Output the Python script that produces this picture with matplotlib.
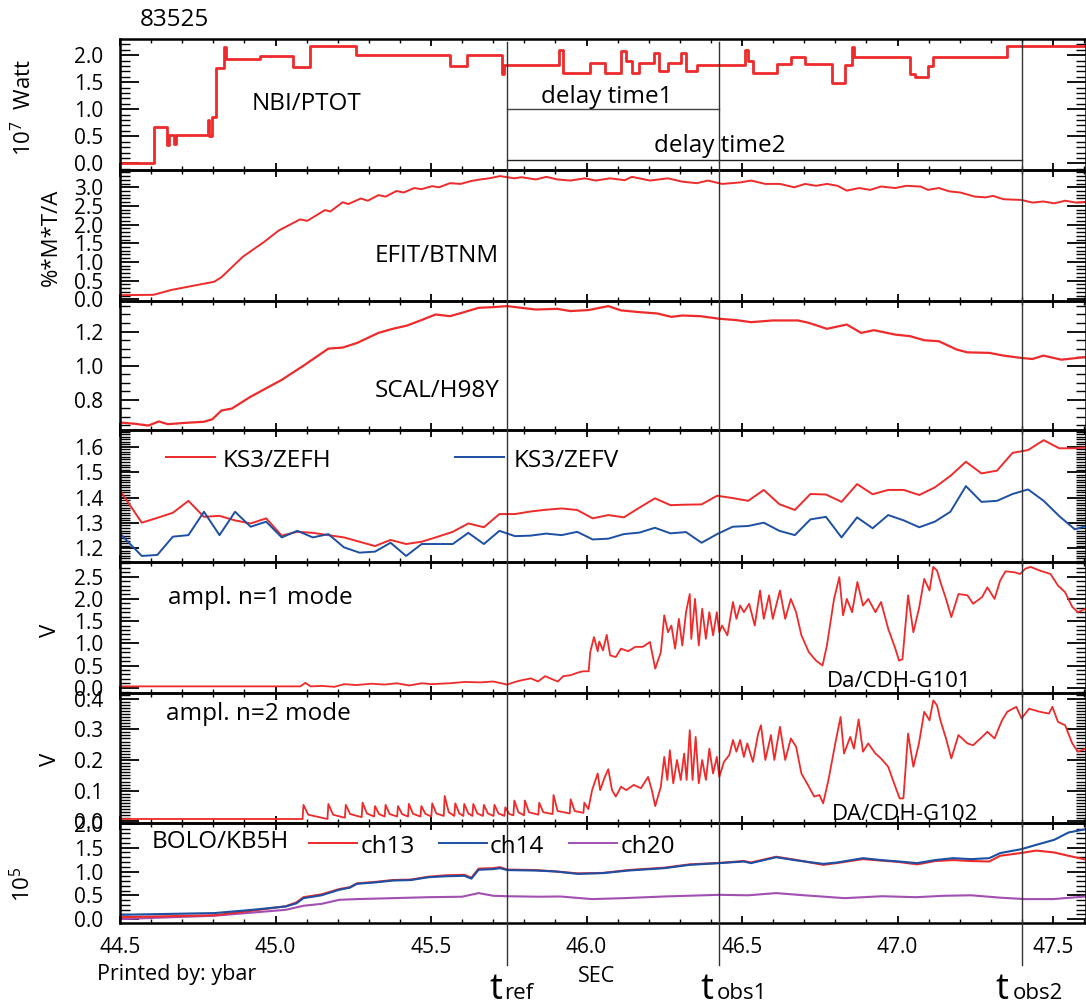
import matplotlib
matplotlib.use('Agg')
import matplotlib.pyplot as plt
from matplotlib.ticker import MultipleLocator, FormatStrFormatter
from matplotlib.lines import Line2D
import matplotlib.transforms as mtransforms

plt.rcParams['font.family'] = ['Open Sans', 'DejaVu Sans']
plt.rcParams['mathtext.fontset'] = 'custom'
plt.rcParams['mathtext.rm'] = 'Open Sans'
plt.rcParams['mathtext.it'] = 'Open Sans'

# ---------------- data ----------------
shot = "83525"
T_REF, T_OBS1, T_OBS2 = 45.744, 46.427, 47.399

nbi_t = [44.50, 44.608, 44.652, 44.658, 44.674, 44.680, 44.782, 44.786, 44.795, 44.810,
         44.835, 44.840, 44.95, 45.056, 45.110, 45.260, 45.560, 45.615, 45.728, 45.735,
         45.911, 45.925, 46.012, 46.059, 46.111, 46.128, 46.146, 46.169, 46.216, 46.233,
         46.262, 46.303, 46.320, 46.355, 46.511, 46.520, 46.535, 46.612, 46.657, 46.703,
         46.790, 46.831, 46.854, 46.860, 47.040, 47.057, 47.098, 47.115, 47.353, 47.61]
nbi_v = [0.00, 0.68, 0.34, 0.52, 0.36, 0.52, 0.80, 0.50, 0.85, 1.76,
         2.15, 1.94, 1.98, 1.79, 2.17, 2.00, 1.80, 2.00, 1.65, 1.82,
         2.10, 1.68, 1.85, 1.68, 2.08, 1.90, 1.68, 1.86, 2.05, 1.70,
         1.85, 2.05, 1.70, 1.82, 2.10, 1.90, 1.68, 1.83, 1.97, 1.83,
         1.49, 1.82, 2.15, 1.96, 1.65, 1.60, 1.80, 1.96, 2.17, 2.17]

efit_t = [44.50, 44.608, 44.665, 44.734, 44.803, 44.826, 44.895, 44.964, 45.010, 45.079,
          45.102, 45.159, 45.176, 45.216, 45.234, 45.274, 45.297, 45.331, 45.354, 45.389,
          45.412, 45.446, 45.469, 45.504, 45.526, 45.561, 45.595, 45.630, 45.659, 45.687,
          45.722, 45.768, 45.791, 45.837, 45.871, 45.906, 45.948, 45.995, 46.030, 46.076,
          46.123, 46.146, 46.204, 46.262, 46.308, 46.355, 46.390, 46.436, 46.494, 46.529,
          46.575, 46.622, 46.668, 46.703, 46.738, 46.773, 46.807, 46.837, 46.877, 46.912,
          46.947, 46.993, 47.028, 47.074, 47.098, 47.133, 47.167, 47.202, 47.249, 47.283,
          47.307, 47.341, 47.399, 47.434, 47.469, 47.504, 47.539, 47.574, 47.606]
efit_v = [0.11, 0.12, 0.25, 0.36, 0.47, 0.59, 1.14, 1.54, 1.84, 2.14,
          2.10, 2.39, 2.35, 2.60, 2.55, 2.70, 2.64, 2.79, 2.75, 2.90,
          2.86, 2.98, 2.95, 3.03, 3.00, 3.11, 3.09, 3.17, 3.21, 3.24,
          3.30, 3.24, 3.27, 3.21, 3.28, 3.21, 3.18, 3.24, 3.18, 3.24,
          3.19, 3.28, 3.18, 3.24, 3.15, 3.11, 3.18, 3.09, 3.13, 3.18,
          3.09, 3.09, 3.00, 3.09, 3.04, 3.09, 3.04, 2.91, 2.98, 2.93,
          3.02, 2.98, 3.04, 3.02, 2.93, 2.98, 2.89, 2.86, 2.75, 2.73,
          2.77, 2.68, 2.66, 2.59, 2.62, 2.57, 2.64, 2.59, 2.61]

h98_t = [44.500, 44.550, 44.591, 44.625, 44.654, 44.711, 44.769, 44.797, 44.826, 44.860,
         44.918, 45.021, 45.090, 45.170, 45.216, 45.262, 45.331, 45.377, 45.423, 45.469,
         45.515, 45.561, 45.607, 45.653, 45.699, 45.745, 45.791, 45.837, 45.906, 45.948,
         46.007, 46.070, 46.111, 46.169, 46.227, 46.273, 46.308, 46.366, 46.427, 46.482,
         46.529, 46.599, 46.680, 46.715, 46.773, 46.837, 46.883, 46.924, 46.993, 47.040,
         47.086, 47.133, 47.191, 47.225, 47.295, 47.341, 47.399, 47.434, 47.469, 47.527, 47.606]
h98_v = [0.667, 0.659, 0.649, 0.673, 0.657, 0.665, 0.671, 0.686, 0.737, 0.749,
         0.816, 0.918, 1.000, 1.100, 1.106, 1.133, 1.192, 1.216, 1.235, 1.267,
         1.300, 1.290, 1.314, 1.339, 1.343, 1.349, 1.339, 1.329, 1.333, 1.320,
         1.326, 1.349, 1.324, 1.314, 1.306, 1.286, 1.294, 1.290, 1.275, 1.267,
         1.255, 1.265, 1.265, 1.251, 1.216, 1.241, 1.192, 1.208, 1.182, 1.173,
         1.149, 1.143, 1.094, 1.078, 1.075, 1.059, 1.045, 1.039, 1.059, 1.035, 1.051]

ks3_t = [44.505, 44.57, 44.62, 44.67, 44.72, 44.77, 44.82, 44.87, 44.92, 44.97,
         45.02, 45.07, 45.12, 45.17, 45.22, 45.27, 45.32, 45.37, 45.42, 45.47,
         45.52, 45.57, 45.62, 45.67, 45.72, 45.77, 45.82, 45.87, 45.92, 45.97,
         46.02, 46.07, 46.12, 46.17, 46.22, 46.27, 46.32, 46.37, 46.42, 46.47,
         46.52, 46.57, 46.62, 46.67, 46.72, 46.77, 46.82, 46.87, 46.92, 46.97,
         47.02, 47.07, 47.12, 47.17, 47.22, 47.27, 47.32, 47.37, 47.42, 47.47,
         47.52, 47.57, 47.62]
zefh = [1.419, 1.301, 1.320, 1.340, 1.387, 1.324, 1.328, 1.310, 1.298, 1.318,
        1.250, 1.265, 1.261, 1.252, 1.243, 1.226, 1.209, 1.233, 1.217, 1.226,
        1.245, 1.265, 1.298, 1.283, 1.335, 1.335, 1.345, 1.352, 1.357, 1.351,
        1.318, 1.331, 1.322, 1.360, 1.397, 1.370, 1.372, 1.373, 1.407, 1.398,
        1.387, 1.430, 1.374, 1.351, 1.414, 1.412, 1.383, 1.453, 1.413, 1.430,
        1.430, 1.410, 1.440, 1.485, 1.541, 1.495, 1.506, 1.576, 1.587, 1.626,
        1.594, 1.594, 1.598]
zefv = [1.252, 1.170, 1.174, 1.246, 1.252, 1.344, 1.252, 1.344, 1.285, 1.305,
        1.243, 1.269, 1.243, 1.256, 1.204, 1.183, 1.187, 1.222, 1.170, 1.217,
        1.217, 1.217, 1.261, 1.217, 1.269, 1.248, 1.250, 1.258, 1.252, 1.265,
        1.235, 1.238, 1.256, 1.262, 1.281, 1.259, 1.264, 1.222, 1.256, 1.285,
        1.288, 1.301, 1.269, 1.252, 1.314, 1.324, 1.243, 1.322, 1.279, 1.331,
        1.310, 1.283, 1.305, 1.344, 1.445, 1.383, 1.387, 1.414, 1.432, 1.387,
        1.327, 1.275, 1.292]

n1_t = [44.50, 44.70, 44.90, 45.08, 45.096, 45.113, 45.15, 45.19, 45.22, 45.26,
        45.31, 45.35, 45.39, 45.43, 45.47, 45.50, 45.56, 45.61, 45.66, 45.70,
        45.745, 45.766, 45.786, 45.821, 45.844, 45.867, 45.890, 45.908, 45.925, 45.948,
        45.972, 45.989, 46.007, 46.012, 46.024, 46.036, 46.041, 46.053, 46.065, 46.076,
        46.094, 46.111, 46.134, 46.157, 46.181, 46.204, 46.221, 46.239, 46.250, 46.262,
        46.273, 46.285, 46.297, 46.308, 46.320, 46.332, 46.337, 46.349, 46.361, 46.372,
        46.384, 46.395, 46.407, 46.419, 46.427, 46.436, 46.453, 46.471, 46.482, 46.494,
        46.506, 46.523, 46.541, 46.558, 46.570, 46.587, 46.599, 46.622, 46.639, 46.657,
        46.674, 46.691, 46.715, 46.738, 46.759, 46.773, 46.796, 46.813, 46.825, 46.837,
        46.854, 46.871, 46.889, 46.906, 46.929, 46.947, 46.970, 46.993, 47.005, 47.016,
        47.034, 47.051, 47.069, 47.086, 47.103, 47.115, 47.127, 47.138, 47.156, 47.173,
        47.196, 47.225, 47.243, 47.272, 47.289, 47.312, 47.330, 47.347, 47.376, 47.394,
        47.411, 47.428, 47.457, 47.492, 47.516, 47.539, 47.562, 47.580, 47.606]
n1_v = [0.03, 0.03, 0.03, 0.03, 0.11, 0.03, 0.04, 0.02, 0.08, 0.06,
        0.09, 0.07, 0.10, 0.05, 0.10, 0.08, 0.10, 0.13, 0.12, 0.14,
        0.07, 0.12, 0.16, 0.21, 0.14, 0.26, 0.19, 0.14, 0.26, 0.28,
        0.34, 0.37, 0.37, 0.80, 1.14, 0.82, 1.04, 0.84, 1.19, 0.73,
        0.69, 0.88, 0.82, 0.92, 0.92, 1.03, 0.43, 0.80, 1.63, 1.25,
        1.40, 0.88, 1.55, 0.95, 1.70, 2.11, 1.10, 2.00, 0.95, 1.78,
        1.10, 1.70, 1.18, 1.70, 1.25, 1.40, 1.18, 1.93, 1.55, 1.85,
        1.70, 1.89, 1.40, 2.19, 1.55, 2.08, 1.55, 2.19, 1.55, 2.00,
        1.70, 1.18, 0.80, 0.61, 0.50, 0.95, 2.00, 2.49, 1.63, 2.00,
        1.70, 2.38, 1.85, 2.00, 1.70, 1.93, 1.33, 0.88, 0.61, 0.64,
        2.08, 1.25, 1.78, 2.45, 2.19, 2.72, 2.64, 2.38, 2.00, 1.59,
        2.11, 2.08, 1.89, 2.04, 2.26, 2.00, 2.41, 2.62, 2.60, 2.56,
        2.68, 2.72, 2.64, 2.56, 2.30, 2.15, 1.82, 1.70, 1.78]

n2_t = [44.500, 45.087, 45.090, 45.105, 45.167, 45.170, 45.185, 45.223, 45.226, 45.240,
        45.277, 45.280, 45.294, 45.317, 45.320, 45.333, 45.351, 45.354, 45.367, 45.391,
        45.394, 45.407, 45.426, 45.429, 45.442, 45.466, 45.469, 45.482, 45.501, 45.504,
        45.517, 45.541, 45.544, 45.557, 45.575, 45.578, 45.591, 45.604, 45.607, 45.620,
        45.633, 45.636, 45.649, 45.667, 45.670, 45.683, 45.701, 45.704, 45.717, 45.736,
        45.739, 45.752, 45.765, 45.768, 45.781, 45.799, 45.802, 45.815, 45.845, 45.848,
        45.861, 45.891, 45.894, 45.907, 45.946, 45.949, 45.962, 45.990, 45.993, 46.006,
        46.018, 46.036, 46.044, 46.059, 46.070, 46.082, 46.094, 46.111, 46.128, 46.152,
        46.175, 46.198, 46.210, 46.221, 46.239, 46.250, 46.260, 46.268, 46.279, 46.291,
        46.303, 46.314, 46.322, 46.332, 46.341, 46.351, 46.361, 46.372, 46.384, 46.395,
        46.407, 46.419, 46.427, 46.442, 46.459, 46.471, 46.482, 46.494, 46.506, 46.517,
        46.535, 46.552, 46.561, 46.575, 46.593, 46.604, 46.622, 46.639, 46.657, 46.674,
        46.691, 46.715, 46.732, 46.749, 46.761, 46.778, 46.802, 46.817, 46.828, 46.848,
        46.860, 46.875, 46.889, 46.906, 46.929, 46.947, 46.970, 46.993, 47.007, 47.019,
        47.034, 47.051, 47.069, 47.086, 47.103, 47.115, 47.127, 47.138, 47.156, 47.173,
        47.196, 47.225, 47.243, 47.272, 47.289, 47.312, 47.336, 47.353, 47.382, 47.399,
        47.423, 47.457, 47.487, 47.498, 47.516, 47.539, 47.562, 47.580, 47.606]
n2_v = [0.008, 0.008, 0.054, 0.022, 0.008, 0.057, 0.022, 0.012, 0.054, 0.024,
        0.014, 0.061, 0.026, 0.016, 0.050, 0.024, 0.016, 0.054, 0.024, 0.016,
        0.050, 0.024, 0.016, 0.057, 0.025, 0.016, 0.050, 0.025, 0.016, 0.059,
        0.026, 0.018, 0.083, 0.030, 0.018, 0.059, 0.026, 0.018, 0.057, 0.026,
        0.018, 0.057, 0.026, 0.018, 0.054, 0.026, 0.018, 0.054, 0.026, 0.018,
        0.046, 0.024, 0.020, 0.068, 0.030, 0.020, 0.068, 0.030, 0.022, 0.061,
        0.030, 0.024, 0.086, 0.034, 0.026, 0.072, 0.034, 0.028, 0.061, 0.040,
        0.102, 0.156, 0.102, 0.145, 0.170, 0.102, 0.081, 0.113, 0.102, 0.119,
        0.108, 0.145, 0.102, 0.050, 0.113, 0.210, 0.135, 0.232, 0.124, 0.200,
        0.135, 0.221, 0.135, 0.297, 0.135, 0.275, 0.124, 0.200, 0.135, 0.237,
        0.156, 0.210, 0.145, 0.194, 0.216, 0.265, 0.227, 0.265, 0.210, 0.254,
        0.194, 0.286, 0.313, 0.200, 0.281, 0.200, 0.308, 0.200, 0.270, 0.243,
        0.156, 0.113, 0.081, 0.086, 0.059, 0.135, 0.265, 0.340, 0.221, 0.275,
        0.237, 0.332, 0.227, 0.254, 0.221, 0.205, 0.178, 0.113, 0.075, 0.075,
        0.286, 0.178, 0.254, 0.357, 0.329, 0.394, 0.378, 0.329, 0.270, 0.205,
        0.281, 0.254, 0.248, 0.275, 0.292, 0.270, 0.329, 0.357, 0.373, 0.335,
        0.367, 0.357, 0.351, 0.373, 0.324, 0.313, 0.254, 0.227, 0.237]

bolo_t = [44.500, 44.803, 44.918, 45.033, 45.067, 45.090, 45.148, 45.205, 45.239, 45.262,
          45.320, 45.377, 45.435, 45.492, 45.549, 45.607, 45.630, 45.653, 45.699, 45.722,
          45.745, 45.837, 45.902, 45.972, 46.053, 46.134, 46.250, 46.332, 46.427, 46.506,
          46.529, 46.610, 46.668, 46.761, 46.807, 46.889, 46.947, 47.005, 47.063, 47.121,
          47.179, 47.237, 47.295, 47.330, 47.399, 47.446, 47.504, 47.550, 47.606]
ch14 = [0.09, 0.126, 0.19, 0.265, 0.33, 0.44, 0.50, 0.616, 0.66, 0.742,
        0.77, 0.81, 0.82, 0.88, 0.90, 0.91, 0.85, 1.036, 1.05, 1.07,
        1.03, 1.02, 1.00, 0.95, 0.966, 1.02, 1.07, 1.14, 1.176, 1.21,
        1.176, 1.30, 1.24, 1.16, 1.19, 1.28, 1.24, 1.21, 1.176, 1.24,
        1.28, 1.26, 1.28, 1.387, 1.47, 1.56, 1.666, 1.82, 1.89]
ch13 = [0.04, 0.08, 0.17, 0.27, 0.35, 0.46, 0.52, 0.63, 0.67, 0.75,
        0.78, 0.82, 0.83, 0.89, 0.92, 0.93, 0.87, 1.06, 1.07, 1.09,
        1.04, 1.03, 1.00, 0.96, 0.97, 1.03, 1.08, 1.15, 1.18, 1.22,
        1.19, 1.31, 1.25, 1.14, 1.18, 1.26, 1.23, 1.20, 1.15, 1.22,
        1.24, 1.22, 1.21, 1.33, 1.39, 1.44, 1.40, 1.33, 1.25]
ch20_t = [44.500, 44.803, 45.033, 45.090, 45.148, 45.205, 45.262, 45.377, 45.492, 45.60,
          45.653, 45.70, 45.745, 45.85, 45.915, 46.018, 46.12, 46.250, 46.427, 46.52,
          46.610, 46.70, 46.830, 46.95, 47.060, 47.15, 47.237, 47.33, 47.410, 47.50, 47.606]
ch20 = [0.00, 0.07, 0.195, 0.28, 0.32, 0.405, 0.42, 0.44, 0.46, 0.47,
        0.546, 0.49, 0.48, 0.47, 0.475, 0.42, 0.44, 0.475, 0.51, 0.50,
        0.546, 0.50, 0.44, 0.48, 0.46, 0.49, 0.50, 0.45, 0.42, 0.42, 0.475]

# ---------------- styling ----------------
RED = '#ee2a2a'
BLUE = '#1d4fa3'
PURPLE = '#a24fb2'

W, H = 1086, 1008
fig = plt.figure(figsize=(W / 100, H / 100), dpi=100)

bounds = [39.3, 170, 301, 430, 562.3, 693.3, 823.3, 922.7]
XL, XR = 120, 1085.5
XLIM = (44.5, 44.5 + (XR - XL) / 311.0)

ylims = [(-0.124, 2.296), (-0.046, 3.463), (0.623, 1.379), (1.145, 1.666),
         (-0.126, 2.824), (-0.006, 0.417), (-0.076, 2.013)]
ymaj = [0.5, 0.5, 0.2, 0.1, 0.5, 0.1, 0.5]
ymin_ = [0.1, 0.1, 0.05, 0.01, 0.1, 0.01, 0.1]

axes = []
for i in range(7):
    top, bot = bounds[i], bounds[i + 1]
    ax = fig.add_axes([XL / W, 1 - bot / H, (XR - XL) / W, (bot - top) / H])
    ax.set_xlim(*XLIM)
    ax.set_ylim(*ylims[i])
    ax.xaxis.set_major_locator(MultipleLocator(0.5))
    ax.xaxis.set_minor_locator(MultipleLocator(0.1))
    ax.yaxis.set_major_locator(MultipleLocator(ymaj[i]))
    ax.yaxis.set_minor_locator(MultipleLocator(ymin_[i]))
    ax.yaxis.set_major_formatter(FormatStrFormatter('%.1f'))
    ax.xaxis.set_major_formatter(FormatStrFormatter('%.1f'))
    ax.tick_params(axis='y', which='major', direction='in', length=14, width=1.3,
                   left=True, right=True, labelsize=15, pad=12)
    ax.tick_params(axis='y', which='minor', direction='in', length=7, width=1.0,
                   left=True, right=True)
    ax.tick_params(axis='x', which='major', direction='in', length=5, width=1.3,
                   top=True, bottom=True, labelsize=15, pad=10,
                   labelbottom=(i == 6))
    ax.tick_params(axis='x', which='minor', direction='in', length=3, width=1.0,
                   top=True, bottom=True)
    for s in ax.spines.values():
        s.set_linewidth(1.8)
    ax.patch.set_alpha(0)
    axes.append(ax)

axes[0].plot(nbi_t, nbi_v, color=RED, lw=2.0, drawstyle='steps-post')
axes[1].plot(efit_t, efit_v, color=RED, lw=1.4)
axes[2].plot(h98_t, h98_v, color=RED, lw=1.6)
axes[3].plot(ks3_t, zefh, color=RED, lw=1.4)
axes[3].plot(ks3_t, zefv, color=BLUE, lw=1.4)
axes[4].plot(n1_t, n1_v, color=RED, lw=1.3)
axes[5].plot(n2_t, n2_v, color=RED, lw=1.3)
axes[6].plot(ch20_t, ch20, color=PURPLE, lw=1.5)
axes[6].plot(bolo_t, ch13, color=RED, lw=1.5)
axes[6].plot(bolo_t, ch14, color=BLUE, lw=1.5)

# delay-time bars
axes[0].plot([T_REF, T_OBS1], [1.0, 1.0], color='#444444', lw=1.0)
axes[0].plot([T_REF, T_OBS2], [0.07, 0.07], color='#222222', lw=1.0)

# vertical marker lines across panels
tr = mtransforms.blended_transform_factory(axes[0].transData, fig.transFigure)
for t in (T_REF, T_OBS1, T_OBS2):
    fig.add_artist(Line2D([t, t], [1 - 42 / H, 1 - 965 / H], transform=tr,
                          color='#333333', lw=1.0))


def ptext(x, y, s, size=17.5, ha='left', va='baseline', **kw):
    fig.text(x / W, 1 - y / H, s, fontsize=size, ha=ha, va=va, **kw)


def pline(x1, x2, y, color):
    fig.add_artist(Line2D([x1 / W, x2 / W], [1 - y / H, 1 - y / H],
                          transform=fig.transFigure, color=color, lw=1.4))


ptext(140, 26, shot, size=17.5)
ptext(252, 110, "NBI/PTOT")
ptext(541, 103, "delay time1")
ptext(654, 152, "delay time2")
ptext(375, 262, "EFIT/BTNM")
ptext(375, 397, "SCAL/H98Y")
pline(166, 215, 457, RED)
ptext(223, 467, "KS3/ZEFH")
pline(455, 504, 457, BLUE)
ptext(514, 467, "KS3/ZEFV")
ptext(168, 604, "ampl. n=1 mode")
ptext(827, 687, "Da/CDH-G101", size=16)
ptext(166, 720, "ampl. n=2 mode")
ptext(832, 820, "DA/CDH-G102", size=16)
ptext(152, 848, "BOLO/KB5H")
pline(309, 357, 843, RED)
ptext(361, 853, "ch13")
pline(439, 487, 843, BLUE)
ptext(490, 853, "ch14")
pline(569, 617, 843, PURPLE)
ptext(621, 853, "ch20")
ptext(97, 980, "Printed by: ybar", size=15.5)
ptext(597, 982, "SEC", size=15.5, ha='center')

for xt, xs, sub in ((489, 504, "ref"), (700, 717, "obs1"), (995, 1013, "obs2")):
    ptext(xt, 999, "t", size=26)
    ptext(xs, 999, sub, size=16)

# y-axis titles
ptext(24, 108, r"10$^{7}$  Watt", size=16, ha='center', va='center', rotation=90)
ptext(51, 237, "%*M*T/A", size=16, ha='center', va='center', rotation=90)
ptext(51, 630, "V", size=16, ha='center', va='center', rotation=90)
ptext(51, 759, "V", size=16, ha='center', va='center', rotation=90)
ptext(23, 884, r"10$^{5}$", size=16, ha='center', va='center', rotation=90)

fig.savefig("out.png", dpi=100)
